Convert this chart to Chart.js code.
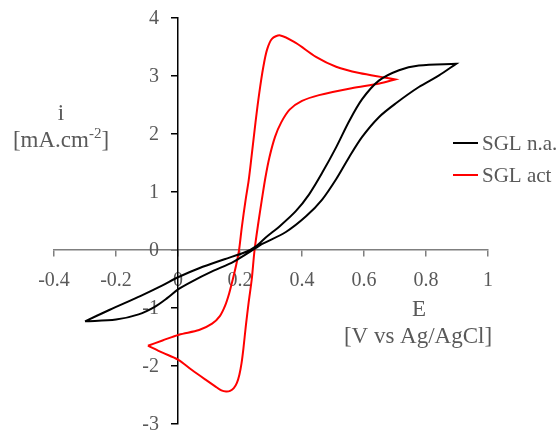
<!DOCTYPE html>
<html>
<head>
<meta charset="utf-8">
<title>CV - SGL</title>
<script src="https://cdn.jsdelivr.net/npm/chart.js@4.4.1/dist/chart.umd.min.js"></script>
<style>
  html, body { margin: 0; padding: 0; background: #fff; overflow: hidden; }
  #wrap { position: absolute; left: 0; top: 0; width: 560px; height: 440px; }
</style>
</head>
<body>
<div id="wrap"><canvas id="cvChart"></canvas></div>
<script>
// series names
var seriesNames = ['SGL n.a.', 'SGL act'];

// SGL n.a. - one closed loop (E in V, i in mA/cm2)
var naE = [-0.30, -0.22, -0.12, -0.05, 0.00, 0.07, 0.15, 0.22, 0.25, 0.284, 0.33, 0.38, 0.423, 0.465, 0.510, 0.552, 0.594, 0.648, 0.713, 0.777, 0.897,
           0.897, 0.842, 0.777, 0.703, 0.648, 0.594, 0.552, 0.510, 0.465, 0.413, 0.348, 0.27, 0.25, 0.18, 0.11, 0.046, 0.00, -0.035, -0.075, -0.127, -0.20, -0.30];
var naI = [-1.23, -1.03, -0.79, -0.61, -0.47, -0.31, -0.16, -0.03, 0.06, 0.22, 0.42, 0.67, 0.96, 1.33, 1.77, 2.22, 2.60, 2.92, 3.10, 3.18, 3.21,
           3.21, 3.01, 2.81, 2.53, 2.29, 1.95, 1.60, 1.22, 0.87, 0.58, 0.31, 0.10, 0.03, -0.20, -0.37, -0.54, -0.68, -0.83, -0.98, -1.11, -1.20, -1.23];

// SGL act
var actE = [-0.097, -0.05, 0.003, 0.068, 0.11, 0.135, 0.152, 0.165, 0.177, 0.188, 0.197, 0.206, 0.218, 0.228, 0.237, 0.25, 0.262, 0.275, 0.287, 0.303, 0.33, 0.38, 0.445, 0.51, 0.585, 0.67, 0.70,
            0.70, 0.65, 0.56, 0.455, 0.40, 0.36, 0.333, 0.313, 0.295, 0.282, 0.27, 0.26, 0.247, 0.238, 0.228, 0.219, 0.211, 0.205, 0.198, 0.19, 0.18, 0.168, 0.155, 0.14, 0.12, 0.09, 0.045, 0.00, -0.05, -0.097];
var actI = [-1.65, -1.56, -1.46, -1.38, -1.27, -1.14, -0.96, -0.75, -0.50, -0.25, 0.00, 0.40, 0.86, 1.20, 1.60, 2.20, 2.70, 3.15, 3.45, 3.64, 3.70, 3.57, 3.33, 3.16, 3.05, 2.97, 2.94,
            2.94, 2.87, 2.79, 2.67, 2.57, 2.42, 2.20, 1.95, 1.60, 1.25, 0.85, 0.50, 0.00, -0.50, -0.90, -1.30, -1.70, -1.95, -2.15, -2.29, -2.38, -2.43, -2.44, -2.42, -2.35, -2.24, -2.07, -1.89, -1.77, -1.65];

// axis ticks
var xTickValues = [-0.4, -0.2, 0, 0.2, 0.4, 0.6, 0.8, 1];
var xTickLabels = ['-0.4', '-0.2', '0', '0.2', '0.4', '0.6', '0.8', '1'];
var yTickValues = [-3, -2, -1, 0, 1, 2, 3, 4];
var yTickLabels = ['-3', '-2', '-1', '0', '1', '2', '3', '4'];

var serif = "'Liberation Serif', 'Times New Roman', serif";
var grey = '#595959';

function toPoints(xs, ys) {
  var pts = [];
  for (var i = 0; i < xs.length; i++) pts.push({ x: xs[i], y: ys[i] });
  return pts;
}

function fixedTicks(values) {
  return function (scale) {
    scale.ticks = values.map(function (v) { return { value: v }; });
  };
}

// y tick labels: chart.js puts them on the axis line when the axis is
// pinned to x=0, so they are placed here left of it (under the curves)
var yLabelPlugin = {
  id: 'yLabelPlugin',
  beforeDatasetsDraw: function (chart) {
    var ctx = chart.ctx;
    var ys = chart.scales.y;
    var ax = chart.scales.x.getPixelForValue(0);
    ctx.save();
    ctx.fillStyle = grey;
    ctx.font = '20px ' + serif;
    ctx.textAlign = 'right';
    ctx.textBaseline = 'middle';
    yTickValues.forEach(function (v, i) {
      ctx.fillText(yTickLabels[i], ax - 19, ys.getPixelForValue(v) + 1);
    });
    ctx.restore();
  }
};

// axis titles + legend drawn by hand (legend sits inside the plot)
var textPlugin = {
  id: 'textPlugin',
  afterDraw: function (chart) {
    var ctx = chart.ctx;
    var area = chart.chartArea;
    ctx.save();
    ctx.fillStyle = grey;
    ctx.textBaseline = 'alphabetic';
    ctx.font = '23px ' + serif;

    // y title
    ctx.textAlign = 'center';
    ctx.fillText('i', 61, 120);
    var a = '[mA.cm', sup = '-2', b = ']';
    ctx.textAlign = 'left';
    var wa = ctx.measureText(a).width, wb = ctx.measureText(b).width;
    ctx.font = '15px ' + serif;
    var ws = ctx.measureText(sup).width;
    var x0 = 61 - (wa + ws + wb) / 2;
    ctx.font = '23px ' + serif;
    ctx.fillText(a, x0, 147);
    ctx.font = '15px ' + serif;
    ctx.fillText(sup, x0 + wa, 138);
    ctx.font = '23px ' + serif;
    ctx.fillText(b, x0 + wa + ws, 147);

    // x title
    ctx.textAlign = 'center';
    ctx.fillText('E', 419, 316);
    ctx.fillText('[V vs Ag/AgCl]', 418, 343);

    // legend
    ctx.font = '21px ' + serif;
    ctx.textBaseline = 'middle';
    ctx.textAlign = 'left';
    chart.data.datasets.forEach(function (ds, i) {
      var y = area.top + 125 + i * 32;
      ctx.strokeStyle = ds.borderColor;
      ctx.lineWidth = 2;
      ctx.beginPath();
      ctx.moveTo(area.right - 35, y);
      ctx.lineTo(area.right - 10, y);
      ctx.stroke();
      ctx.fillText(ds.label, area.right - 6, y + 1);
    });
    ctx.restore();
  }
};

new Chart(document.getElementById('cvChart'), {
  type: 'scatter',
  data: {
    datasets: [{
      label: seriesNames[0],
      data: toPoints(naE, naI),
      showLine: true,
      borderColor: '#000000',
      borderWidth: 2,
      pointRadius: 0,
      tension: 0.3
    }, {
      label: seriesNames[1],
      data: toPoints(actE, actI),
      showLine: true,
      borderColor: '#ff0000',
      borderWidth: 2,
      pointRadius: 0,
      tension: 0.3
    }]
  },
  options: {
    responsive: true,
    maintainAspectRatio: false,
    animation: false,
    events: [],
    layout: { padding: { left: 54, right: 72, top: 18, bottom: 16 } },
    plugins: { legend: { display: false }, tooltip: { enabled: false } },
    scales: {
      x: {
        type: 'linear',
        position: { y: 0 },
        min: -0.4,
        max: 1,
        afterBuildTicks: fixedTicks(xTickValues),
        ticks: {
          color: grey,
          font: { family: serif, size: 20 },
          padding: 13,
          maxRotation: 0,
          callback: function (v) {
            var k = xTickValues.indexOf(Math.round(v * 10) / 10);
            return k >= 0 ? xTickLabels[k] : '';
          }
        },
        grid: { drawOnChartArea: false, drawTicks: true, tickLength: 6, color: '#7f7f7f', lineWidth: 1.5 },
        border: { color: '#7f7f7f', width: 1.5 }
      },
      y: {
        type: 'linear',
        position: { x: 0 },
        min: -3,
        max: 4,
        afterBuildTicks: fixedTicks(yTickValues),
        ticks: { display: false },
        grid: { drawOnChartArea: false, drawTicks: true, tickLength: 6, color: '#000000', lineWidth: 1.5 },
        border: { color: '#000000', width: 1.5 }
      }
    }
  },
  plugins: [yLabelPlugin, textPlugin]
});
</script>
</body>
</html>
